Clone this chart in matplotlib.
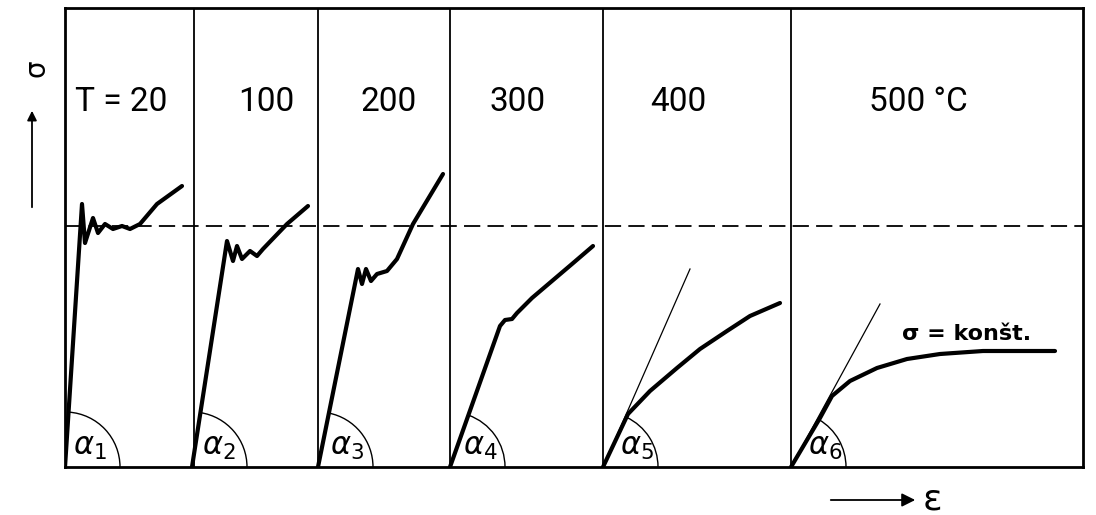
import numpy as np
import matplotlib.pyplot as plt
from matplotlib.patches import Arc

# panel boundaries along the strain axis (arbitrary units)
panel_edges = [0, 129, 253, 385, 538, 726, 1018]
temp_labels = ['T = 20', '100', '200', '300', '400', '500 °C']
alpha_labels = [r'$\alpha_1$', r'$\alpha_2$', r'$\alpha_3$',
                r'$\alpha_4$', r'$\alpha_5$', r'$\alpha_6$']
sigma_top = 459
sigma_yield = 241   # dashed reference level

# stress-strain curves, strain measured from each panel's origin
eps_20 = [0, 17, 20, 28, 33, 40, 48, 57, 65, 75, 92, 117]
sig_20 = [0, 263, 224, 249, 234, 243, 238, 241, 238, 243, 263, 281]

eps_100 = [-2, 33, 39, 43, 48, 56, 63, 69, 93, 114]
sig_100 = [0, 226, 206, 221, 208, 216, 211, 218, 243, 261]

eps_200 = [0, 40, 44, 48, 53, 59, 69, 79, 95, 125]
sig_200 = [0, 198, 183, 198, 186, 193, 196, 208, 243, 293]

eps_300 = [0, 50, 55, 62, 67, 82, 102, 122, 143]
sig_300 = [0, 141, 147, 148, 154, 169, 186, 203, 221]

eps_400 = [0, 25, 47, 74, 97, 124, 147, 177]
sig_400 = [0, 53, 76, 99, 118, 136, 151, 164]

eps_500 = [0, 29, 41, 59, 86, 116, 149, 192, 264]
sig_500 = [0, 49, 71, 86, 99, 108, 113, 116, 116]

curves = [(eps_20, sig_20), (eps_100, sig_100), (eps_200, sig_200),
          (eps_300, sig_300), (eps_400, sig_400), (eps_500, sig_500)]

# initial tangents drawn for 400 and 500 °C
tangent_400 = ([0, 87], [0, 198])
tangent_500 = ([0, 89], [0, 163])

# layout tweaks
label_dx = [-8, 10, 5, -9, -19, -19]
alpha_dx = [8, 8, 12, 13, 17, 17]
arc_r = 55

W, H = 1096, 515
fig = plt.figure(figsize=(W / 100, H / 100), dpi=100)
ax = fig.add_axes([65 / W, (H - 467) / H, 1018 / W, 459 / H])
ax.set_xlim(0, panel_edges[-1])
ax.set_ylim(0, sigma_top)
ax.set_xticks([])
ax.set_yticks([])
for s in ax.spines.values():
    s.set_linewidth(2)
    s.set_color('black')

# panel separators and yield level
for x in panel_edges[1:-1]:
    ax.axvline(x, color='black', lw=1.3)
ax.axhline(sigma_yield, color='black', lw=1.3, linestyle=(0, (9, 4)))

label_font = ['Roboto', 'DejaVu Sans']
for i, (eps, sig) in enumerate(curves):
    x0 = panel_edges[i]
    ax.plot(np.array(eps) + x0, sig, color='black', lw=3,
            solid_capstyle='round', solid_joinstyle='round')
    # angle of the elastic slope
    ang = np.degrees(np.arctan2(sig[1] - sig[0], eps[1] - eps[0]))
    ax.add_patch(Arc((x0 + eps[0], 0), 2 * arc_r, 2 * arc_r, theta1=0,
                     theta2=ang, color='black', lw=1))
    ax.text(x0 + alpha_dx[i], 5, alpha_labels[i], fontsize=22,
            ha='left', va='bottom')
    xc = (panel_edges[i] + panel_edges[i + 1]) / 2 + label_dx[i]
    ax.text(xc, 365, temp_labels[i], fontsize=24, ha='center', va='center',
            family=label_font)

for (tx, ty), i in [(tangent_400, 4), (tangent_500, 5)]:
    ax.plot(np.array(tx) + panel_edges[i], ty, color='black', lw=0.9)

ax.text(panel_edges[5] + 111, 133, 'σ = konšt.', fontsize=16,
        fontweight='bold', ha='left', va='center')

# axis arrows outside the frame
ax.annotate('', xy=(32, 407), xytext=(32, 305), xycoords='figure pixels',
            textcoords='figure pixels',
            arrowprops=dict(arrowstyle='-|>', color='black', lw=1.3,
                            mutation_scale=14))
fig.text(36 / W, (H - 68) / H, 'σ', fontsize=20, rotation=90,
         ha='center', va='center')
ax.annotate('', xy=(918, 15), xytext=(828, 15), xycoords='figure pixels',
            textcoords='figure pixels',
            arrowprops=dict(arrowstyle='-|>', color='black', lw=1.3,
                            mutation_scale=20))
fig.text(932 / W, 15 / H, 'ε', fontsize=26, ha='center', va='center')

fig.savefig('out.png', dpi=100)
